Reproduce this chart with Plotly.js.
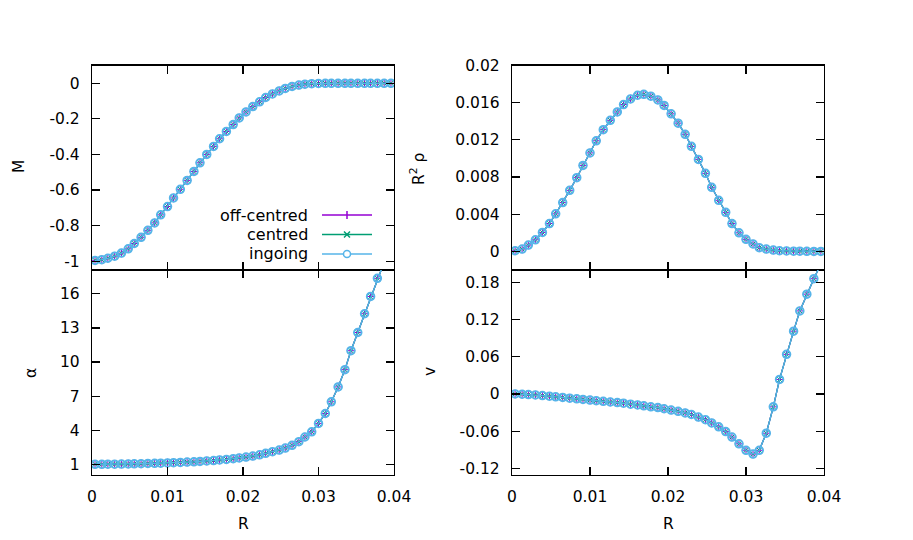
<!DOCTYPE html>
<html>
<head>
<meta charset="utf-8">
<script src="https://cdn.plot.ly/plotly-3.0.1.min.js"></script>
<style>
  body { margin: 0; background: white; }
  #plot { width: 913px; height: 540px; }
</style>
</head>
<body>
<div id="plot"></div>
<script>
// radial coordinate of the output points
var R = [0.0004, 0.0013, 0.0021, 0.0030, 0.0039, 0.0048, 0.0056, 0.0065, 0.0074, 0.0083,
         0.0091, 0.0100, 0.0108, 0.0117, 0.0126, 0.0135, 0.0143, 0.0152, 0.0161, 0.0169,
         0.0178, 0.0187, 0.0195, 0.0204, 0.0213, 0.0222, 0.0230, 0.0239, 0.0248, 0.0256,
         0.0265, 0.0274, 0.0282, 0.0291, 0.0300, 0.0309, 0.0317, 0.0326, 0.0335, 0.0343,
         0.0352, 0.0361, 0.0369, 0.0378, 0.0387, 0.0396];

var M = [-0.996, -0.992, -0.984, -0.972, -0.955, -0.931, -0.901, -0.866, -0.827, -0.785,
         -0.740, -0.693, -0.645, -0.596, -0.546, -0.496, -0.447, -0.400, -0.355, -0.312,
         -0.271, -0.232, -0.195, -0.161, -0.131, -0.104, -0.080, -0.060, -0.043, -0.029,
         -0.018, -0.010, -0.005, -0.002, -0.001, 0, 0, 0, 0, 0,
         0, 0, 0, 0, 0, 0];

var R2rho = [0.00007, 0.00025, 0.00068, 0.00125, 0.00204, 0.0030, 0.00404, 0.00525, 0.00657, 0.00793,
             0.00925, 0.0106, 0.0119, 0.0131, 0.0141, 0.0150, 0.0158, 0.0164, 0.0168, 0.0169,
             0.0167, 0.0163, 0.0157, 0.0148, 0.0138, 0.0126, 0.0113, 0.0099, 0.0084, 0.0069,
             0.0055, 0.0042, 0.0030, 0.0020, 0.0013, 0.0008, 0.0004, 0.00025, 0.00014, 0.00007,
             0.00005, 0.00003, 0.00002, 0.00001, 0, 0];

var alpha = [1.00, 1.00, 1.01, 1.01, 1.02, 1.03, 1.04, 1.05, 1.07, 1.08,
             1.10, 1.12, 1.14, 1.16, 1.19, 1.22, 1.25, 1.29, 1.33, 1.38,
             1.43, 1.49, 1.56, 1.63, 1.72, 1.83, 1.96, 2.11, 2.25, 2.43,
             2.67, 2.99, 3.40, 3.86, 4.60, 5.47, 6.50, 7.81, 9.33, 11.0,
             12.6, 14.25, 15.77, 17.37, 18.9, 20.4];

var v = [0, -0.0005, -0.001, -0.0016, -0.0026, -0.0036, -0.0047, -0.0057, -0.0068, -0.0078,
         -0.0088, -0.0099, -0.0109, -0.0119, -0.013, -0.014, -0.015, -0.0166, -0.0177, -0.0192,
         -0.0208, -0.0220, -0.0239, -0.026, -0.028, -0.0306, -0.0332, -0.0374, -0.0416, -0.0468,
         -0.053, -0.0608, -0.0696, -0.0805, -0.0909, -0.0971, -0.0909, -0.0634, -0.0208, 0.0234,
         0.0639, 0.1013, 0.134, 0.161, 0.186, 0.21];

// tick labels (gnuplot style hyphen minus)
var mTicks = [-1, -0.8, -0.6, -0.4, -0.2, 0];
var mLabels = ['-1', '-0.8', '-0.6', '-0.4', '-0.2', '0'];
var vTicks = [-0.12, -0.06, 0, 0.06, 0.12, 0.18];
var vLabels = ['-0.12', '-0.06', '0', '0.06', '0.12', '0.18'];

var seriesNames = ['off-centred', 'centred', 'ingoing'];
var seriesColors = ['#9400d3', '#009e73', '#56b4e9'];
var seriesSymbols = ['cross-thin-open', 'x-thin-open', 'circle-open'];
var seriesSizes = [6, 5.5, 7.5];
var seriesWidths = [1, 1, 2];

var W = 913, H = 540;
function px(x) { return x / W; }
function py(y) { return 1 - y / H; }

var font = {family: 'DejaVu Sans', size: 15.5, color: 'black'};

var panels = [
  {y: M, xa: 'x', ya: 'y'},
  {y: R2rho, xa: 'x2', ya: 'y2'},
  {y: alpha, xa: 'x3', ya: 'y3'},
  {y: v, xa: 'x4', ya: 'y4'}
];

var data = [];
panels.forEach(function(p) {
  for (var s = 0; s < 3; s++) {
    data.push({
      x: R, y: p.y, xaxis: p.xa, yaxis: p.ya,
      type: 'scatter', mode: 'lines+markers', name: seriesNames[s], showlegend: false,
      line: {color: seriesColors[s], width: 1.3},
      marker: {symbol: seriesSymbols[s], size: seriesSizes[s], color: seriesColors[s],
               line: {color: seriesColors[s], width: seriesWidths[s]}}
    });
  }
});

function axis(extra) {
  var a = {
    showline: true, linecolor: 'black', linewidth: 1.2, mirror: 'ticks',
    ticks: 'inside', ticklen: 8, tickwidth: 1.2, tickcolor: 'black',
    showgrid: false, zeroline: false, tickfont: font, ticklabelstandoff: 8,
    fixedrange: true
  };
  for (var k in extra) a[k] = extra[k];
  return a;
}

var leftDom = [px(92), px(394)];
var rightDom = [px(512), px(824)];
var topDom = [py(270), py(65.5)];
var botDom = [py(474.5), py(270)];

var layout = {
  width: W, height: H,
  margin: {l: 0, r: 0, t: 0, b: 0},
  paper_bgcolor: 'white', plot_bgcolor: 'white',
  font: font,
  xaxis: axis({domain: leftDom, anchor: 'y', range: [0, 0.04], tick0: 0, dtick: 0.01, showticklabels: false}),
  yaxis: axis({domain: topDom, anchor: 'x', range: [-1.05, 0.1], tickvals: mTicks, ticktext: mLabels}),
  xaxis2: axis({domain: rightDom, anchor: 'y2', range: [0, 0.04], tick0: 0, dtick: 0.01, showticklabels: false}),
  yaxis2: axis({domain: topDom, anchor: 'x2', range: [-0.002, 0.02], tick0: 0, dtick: 0.004}),
  xaxis3: axis({domain: leftDom, anchor: 'y3', range: [0, 0.04], tick0: 0, dtick: 0.01}),
  yaxis3: axis({domain: botDom, anchor: 'x3', range: [0.1, 18.1], tick0: 1, dtick: 3}),
  xaxis4: axis({domain: rightDom, anchor: 'y4', range: [0, 0.04], tick0: 0, dtick: 0.01}),
  yaxis4: axis({domain: botDom, anchor: 'x4', range: [-0.13, 0.2], tickvals: vTicks, ticktext: vLabels}),
  annotations: [],
  shapes: []
};

// axis titles
var titles = [
  {text: 'M', x: 19, y: 167, rot: -90},
  {text: 'α', x: 31, y: 373, rot: -90},
  {text: 'R<sup>2</sup> ρ', x: 418, y: 169, rot: -90},
  {text: 'v', x: 430, y: 372, rot: -90},
  {text: 'R', x: 243, y: 524, rot: 0},
  {text: 'R', x: 668, y: 524, rot: 0}
];
titles.forEach(function(t) {
  layout.annotations.push({
    text: t.text, xref: 'paper', yref: 'paper', x: px(t.x), y: py(t.y),
    xanchor: 'center', yanchor: 'middle', textangle: t.rot, showarrow: false, font: font
  });
});

// legend drawn gnuplot style: text on the left, sample on the right
var legendRows = [215, 234.5, 254];
for (var s = 0; s < 3; s++) {
  var ly = legendRows[s];
  layout.annotations.push({
    text: seriesNames[s], xref: 'paper', yref: 'paper', x: px(310), y: py(ly),
    xanchor: 'right', yanchor: 'middle', showarrow: false, font: {family: 'DejaVu Sans', size: 16, color: 'black'}
  });
  layout.shapes.push({type: 'line', xref: 'paper', yref: 'paper',
    x0: px(322), x1: px(372), y0: py(ly), y1: py(ly),
    line: {color: seriesColors[s], width: 1.5}});
}
// legend point symbols
layout.shapes.push({type: 'line', xref: 'paper', yref: 'paper', x0: px(347), x1: px(347),
  y0: py(211), y1: py(219), line: {color: seriesColors[0], width: 1.5}});
layout.shapes.push({type: 'line', xref: 'paper', yref: 'paper', x0: px(344), x1: px(350),
  y0: py(231.5), y1: py(237.5), line: {color: seriesColors[1], width: 1.5}});
layout.shapes.push({type: 'line', xref: 'paper', yref: 'paper', x0: px(344), x1: px(350),
  y0: py(237.5), y1: py(231.5), line: {color: seriesColors[1], width: 1.5}});
layout.shapes.push({type: 'circle', xref: 'paper', yref: 'paper', x0: px(343.5), x1: px(350.5),
  y0: py(250.5), y1: py(257.5), line: {color: seriesColors[2], width: 1.5}, fillcolor: 'white'});

Plotly.newPlot('plot', data, layout, {staticPlot: true});
</script>
</body>
</html>
